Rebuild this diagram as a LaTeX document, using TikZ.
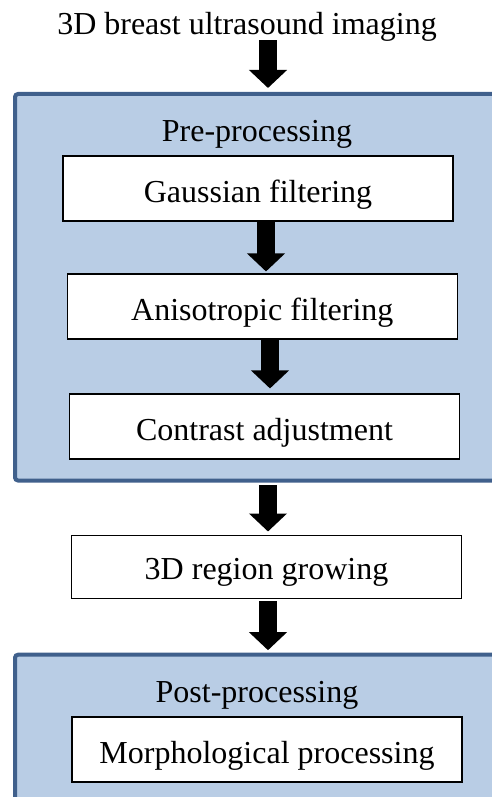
\documentclass[tikz,border=0pt]{standalone}
\usepackage{fontspec}
\setmainfont{Liberation Serif}
\usetikzlibrary{arrows.meta}
\definecolor{groupfill}{RGB}{185,205,229}
\definecolor{groupline}{RGB}{64,96,140}
\tikzset{
  groupbox/.style={draw=groupline, fill=groupfill, line width=4pt, rounded corners=3pt, inner sep=0pt},
  stepbox/.style={draw=black, fill=white, line width=1.1pt, inner sep=0pt,
    minimum width=390pt, minimum height=65pt, text height=27pt, text depth=0pt,
    font=\fontsize{32}{38}\selectfont},
  labeltext/.style={inner sep=0pt, anchor=base, font=\fontsize{32}{38}\selectfont},
  blockarrow/.style={draw=black, line width=18pt, -{Triangle[width=37pt,length=18pt]}}
}
\begin{document}
\begin{tikzpicture}[x=1pt,y=-1pt]
\path[use as bounding box] (0,0) rectangle (492,797);
\clip (0,0) rectangle (492,797);
% group boxes
\node[groupbox, minimum width=485pt, minimum height=386.5pt] (pre) at (257.5,287.25) {};
\node[groupbox, minimum width=485pt, minimum height=166pt] (post) at (257.5,737.7) {};
% labels
\node[labeltext] (title) at (247,35) {3D breast ultrasound imaging};
\node[labeltext] (prelabel) at (257,141) {Pre-processing};
\node[labeltext] (postlabel) at (257,702) {Post-processing};
% steps
\node[stepbox] (gauss) at (258,188.5) {Gaussian filtering};
\node[stepbox] (aniso) at (262.3,306.5) {Anisotropic filtering};
\node[stepbox] (contrast) at (264.5,426.5) {Contrast adjustment};
\node[stepbox, minimum height=63.5pt, text height=25pt] (region) at (266.5,566.8) {3D region growing};
\node[stepbox] (morph) at (267,749.5) {Morphological processing};
% arrow columns
\coordinate (c1) at (268,0);
\coordinate (c2) at (266,0);
\coordinate (c3) at (270,0);
\coordinate (c4) at (268,0);
\coordinate (c5) at (268,0);
% arrows
\draw[blockarrow, shorten >=4pt] ([yshift=2pt]title.south -| c1) -- (pre.north -| c1);
\draw[blockarrow, shorten >=2pt] (gauss.south -| c2) -- (aniso.north -| c2);
\draw[blockarrow, shorten >=5pt] (aniso.south -| c3) -- (contrast.north -| c3);
\draw[blockarrow, shorten <=2.5pt, shorten >=3pt] (pre.south -| c4) -- (region.north -| c4);
\draw[blockarrow, shorten <=2pt, shorten >=2.5pt] (region.south -| c5) -- (post.north -| c5);
\end{tikzpicture}
\end{document}
